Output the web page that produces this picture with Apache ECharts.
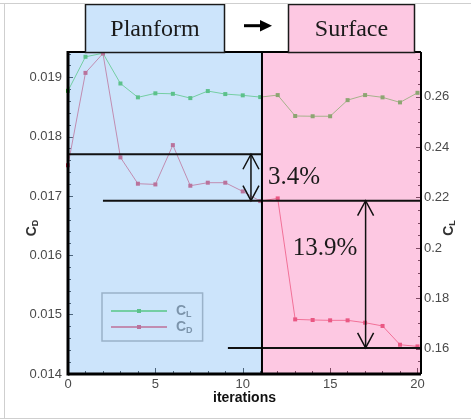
<!DOCTYPE html>
<html>
<head>
<meta charset="utf-8">
<script src="https://cdn.jsdelivr.net/npm/echarts@6/dist/echarts.min.js"></script>
<style>
  html, body { margin: 0; padding: 0; background: #fff; }
  #chart { width: 471px; height: 419px; }
</style>
</head>
<body>
<div id="chart"></div>
<script>
// Convergence history: drag and lift coefficients per design iteration
const iterations = [0, 1, 2, 3, 4, 5, 6, 7, 8, 9, 10, 11, 12, 13, 14, 15, 16, 17, 18, 19, 20];
const cdValues = [0.01752, 0.019078, 0.019405, 0.017653, 0.017209, 0.017197, 0.01786, 0.017175,
  0.017226, 0.017226, 0.017079, 0.016916, 0.016961, 0.014921, 0.014911, 0.014905, 0.014905,
  0.014865, 0.01481, 0.014494, 0.014465];
const clValues = [0.2624, 0.2759, 0.2773, 0.2653, 0.2598, 0.2614, 0.2612, 0.2595, 0.2623, 0.2611,
  0.2606, 0.2599, 0.2607, 0.2524, 0.2523, 0.2523, 0.2587, 0.2607, 0.2598, 0.2578, 0.2616];

// Axis ranges
const iterRange = [0, 20.2];
const cdRange = [0.014, 0.01943];
const clRange = [0.15, 0.2778];

// Design stages: planform optimisation, then surface optimisation
const stageNames = ['Planform', 'Surface'];
const stageBounds = [[0, 11.1], [11.1, 20.2]];

// Reference drag levels [fromIteration, toIteration, CD]
const refLines = [[0, 11.1, 0.017706], [2.0, 20.2, 0.016922], [9.15, 20.2, 0.014439]];
// Drag reductions [iteration, upper CD, lower CD]
const gapArrows = [[10.47, 0.017706, 0.016922], [17.03, 0.016922, 0.014439]];
const gapLabels = ['3.4%', '13.9%'];
const gapLabelAnchors = [[11.44, 0.017318], [12.86, 0.01612]];

const sansFont = '"Liberation Sans", Arial, sans-serif';
const serifFont = '"Liberation Serif", "Times New Roman", serif';
const stageFills = ['rgba(153,201,247,0.5)', 'rgba(251,145,197,0.5)'];
const stageBoxFills = ['#cce4fb', '#fdc8e2'];

const chart = echarts.init(document.getElementById('chart'), null, { renderer: 'canvas' });

const labelStyle = { fontFamily: sansFont, fontSize: 13, color: '#4a4a4a' };
const subRich = {
  c: { fontFamily: sansFont, fontSize: 14, fontWeight: 'bold', color: '#333' },
  s: { fontFamily: sansFont, fontSize: 9, fontWeight: 'bold', color: '#333', padding: [7, 0, 0, 0] }
};

const option = {
  animation: false,
  grid: { left: 68, right: 50, top: 52, bottom: 45, outerBoundsMode: 'none', containLabel: false },
  legend: {
    data: ['CL', 'CD'],
    orient: 'vertical',
    left: 102, top: 293,
    padding: [11, 10, 6, 8],
    itemWidth: 56, itemHeight: 5, itemGap: 1,
    borderColor: '#9a9a9a', borderWidth: 1.5,
    formatter: name => '{c|C}{s|' + name.slice(1) + '}',
    textStyle: { rich: {
      c: { fontFamily: sansFont, fontSize: 14, fontWeight: 'bold', color: '#5e5e5e', padding: [0, 0, 0, 4] },
      s: { fontFamily: sansFont, fontSize: 9, fontWeight: 'bold', color: '#5e5e5e', padding: [7, 0, 0, 0] }
    } }
  },
  xAxis: {
    type: 'value', min: iterRange[0], max: iterRange[1], interval: 5,
    name: 'iterations', nameLocation: 'middle', nameGap: 17, nameMoveOverlap: false,
    nameTextStyle: { fontFamily: sansFont, fontSize: 14, fontWeight: 'bold', color: '#111' },
    axisLine: { show: false },
    axisTick: { inside: true, length: 6, lineStyle: { color: '#000', width: 1 } },
    minorTick: { show: true, splitNumber: 5, length: 3, lineStyle: { color: '#000', width: 1 } },
    splitLine: { show: false },
    axisLabel: Object.assign({ margin: 4, showMaxLabel: false }, labelStyle)
  },
  yAxis: [{
    type: 'value', position: 'left', min: cdRange[0], max: cdRange[1], interval: 0.001,
    name: '{c|C}{s|D}', nameLocation: 'middle', nameGap: 28, nameMoveOverlap: false,
    nameTextStyle: { rich: subRich, padding: [0, 30, 0, 0] },
    axisLine: { show: false },
    axisTick: { inside: true, length: 5, lineStyle: { color: '#000', width: 1 } },
    minorTick: { show: true, splitNumber: 5, length: 3, lineStyle: { color: '#000', width: 1 } },
    splitLine: { show: false },
    axisLabel: Object.assign({ margin: 6, showMaxLabel: false, formatter: v => v.toFixed(3) }, labelStyle)
  }, {
    type: 'value', position: 'right', min: clRange[0], max: clRange[1], splitNumber: 6,
    name: '{c|C}{s|L}', nameLocation: 'middle', nameGap: 20, nameMoveOverlap: false,
    nameTextStyle: { rich: subRich, padding: [0, 30, 0, 0] },
    axisLine: { show: false },
    axisTick: { inside: true, length: 5, lineStyle: { color: '#000', width: 1 } },
    minorTick: { show: true, splitNumber: 4, length: 3, lineStyle: { color: '#000', width: 1 } },
    splitLine: { show: false },
    axisLabel: Object.assign({ margin: 3, showMinLabel: false, showMaxLabel: false,
      formatter: v => String(+v.toFixed(2)) }, labelStyle)
  }],
  series: [
    {
      name: 'CL', type: 'line', yAxisIndex: 1, z: 2,
      data: iterations.map((x, i) => [x, clValues[i]]),
      symbol: 'rect', symbolSize: 4,
      lineStyle: { color: '#4fd34f', width: 1 },
      itemStyle: { color: '#1fb81f' }
    },
    {
      name: 'CD', type: 'line', yAxisIndex: 0, z: 2,
      data: iterations.map((x, i) => [x, cdValues[i]]),
      symbol: 'rect', symbolSize: 4,
      lineStyle: { color: '#e8506a', width: 1 },
      itemStyle: { color: '#d81c40' }
    },
    {
      // translucent stage shading laid over the curves
      type: 'custom', yAxisIndex: 0, z: 5, silent: true,
      data: stageBounds,
      encode: { x: [0, 1] },
      renderItem: (params, api) => {
        const p0 = api.coord([api.value(0), cdRange[1]]);
        const p1 = api.coord([api.value(1), cdRange[0]]);
        return { type: 'rect', shape: { x: p0[0], y: p0[1], width: p1[0] - p0[0], height: p1[1] - p0[1] },
          style: { fill: stageFills[params.dataIndex] } };
      }
    },
    {
      // reference drag levels
      type: 'custom', yAxisIndex: 0, z: 10, silent: true,
      data: refLines,
      encode: { x: [0, 1], y: 2 },
      renderItem: (params, api) => {
        const p0 = api.coord([api.value(0), api.value(2)]);
        const p1 = api.coord([api.value(1), api.value(2)]);
        return { type: 'line', shape: { x1: p0[0], y1: p0[1], x2: p1[0], y2: p1[1] },
          style: { stroke: '#111', lineWidth: 2 } };
      }
    },
    {
      // double-headed arrows spanning each drag reduction, with their labels
      type: 'custom', yAxisIndex: 0, z: 10, silent: true,
      data: gapArrows,
      encode: { x: 0, y: [1, 2] },
      renderItem: (params, api) => {
        const top = api.coord([api.value(0), api.value(1)]);
        const bot = api.coord([api.value(0), api.value(2)]);
        const x = top[0], w = 8, h = 15;
        const stroke = { stroke: '#111', lineWidth: 1.5, fill: null };
        const anchor = gapLabelAnchors[params.dataIndex];
        const lp = api.coord(anchor);
        return { type: 'group', children: [
          { type: 'line', shape: { x1: x, y1: top[1], x2: x, y2: bot[1] }, style: stroke },
          { type: 'polyline', shape: { points: [[x - w, top[1] + h], [x, top[1]], [x + w, top[1] + h]] }, style: stroke },
          { type: 'polyline', shape: { points: [[x - w, bot[1] - h], [x, bot[1]], [x + w, bot[1] - h]] }, style: stroke },
          { type: 'text', style: { text: gapLabels[params.dataIndex], x: lp[0], y: lp[1],
            font: '25px ' + serifFont, fill: '#1a1a1a', align: 'left', verticalAlign: 'middle' } }
        ] };
      }
    },
    {
      // plot frame and stage divider
      type: 'custom', yAxisIndex: 0, z: 11, silent: true,
      data: [[stageBounds[0][1]]],
      encode: { x: 0 },
      renderItem: (params, api) => {
        const tl = api.coord([iterRange[0], cdRange[1]]);
        const br = api.coord([iterRange[1], cdRange[0]]);
        const d = api.coord([api.value(0), cdRange[0]]);
        const s = w => ({ stroke: '#000', lineWidth: w });
        return { type: 'group', children: [
          { type: 'line', shape: { x1: tl[0], y1: tl[1], x2: br[0], y2: tl[1] }, style: s(2) },
          { type: 'line', shape: { x1: br[0], y1: tl[1], x2: br[0], y2: br[1] }, style: s(2) },
          { type: 'line', shape: { x1: tl[0], y1: br[1], x2: br[0], y2: br[1] }, style: s(3) },
          { type: 'line', shape: { x1: tl[0], y1: tl[1] - 1, x2: tl[0], y2: br[1] + 1.5 }, style: s(3) },
          { type: 'line', shape: { x1: d[0], y1: tl[1], x2: d[0], y2: br[1] }, style: s(2) }
        ] };
      }
    }
  ],
  graphic: [
    // outer frame
    { type: 'line', z: 50, shape: { x1: 0, y1: 3.5, x2: 471, y2: 3.5 }, style: { stroke: '#cfcfcf', lineWidth: 1 } },
    { type: 'line', z: 50, shape: { x1: 4.5, y1: 3.5, x2: 4.5, y2: 418.5 }, style: { stroke: '#cfcfcf', lineWidth: 1 } },
    { type: 'line', z: 50, shape: { x1: 0, y1: 418.5, x2: 471, y2: 418.5 }, style: { stroke: '#cfcfcf', lineWidth: 1 } },
    // stage title boxes
    { type: 'rect', z: 40, shape: { x: 85.5, y: 4.5, width: 139, height: 48 },
      style: { fill: stageBoxFills[0], stroke: '#1a1a1a', lineWidth: 1.5 } },
    { type: 'text', z: 41, style: { text: stageNames[0], x: 155, y: 30, font: '24px ' + serifFont,
      fill: '#1a1a1a', align: 'center', verticalAlign: 'middle' } },
    { type: 'rect', z: 40, shape: { x: 288.5, y: 4.5, width: 126, height: 48 },
      style: { fill: stageBoxFills[1], stroke: '#1a1a1a', lineWidth: 1.5 } },
    { type: 'text', z: 41, style: { text: stageNames[1], x: 351.5, y: 30, font: '24px ' + serifFont,
      fill: '#1a1a1a', align: 'center', verticalAlign: 'middle' } },
    // arrow between the stages
    { type: 'line', z: 41, shape: { x1: 244, y1: 25.7, x2: 263, y2: 25.7 }, style: { stroke: '#000', lineWidth: 3 } },
    { type: 'polygon', z: 41, shape: { points: [[260, 20], [272, 25.7], [260, 31.4]] }, style: { fill: '#000' } }
  ]
};

chart.setOption(option);
</script>
</body>
</html>
